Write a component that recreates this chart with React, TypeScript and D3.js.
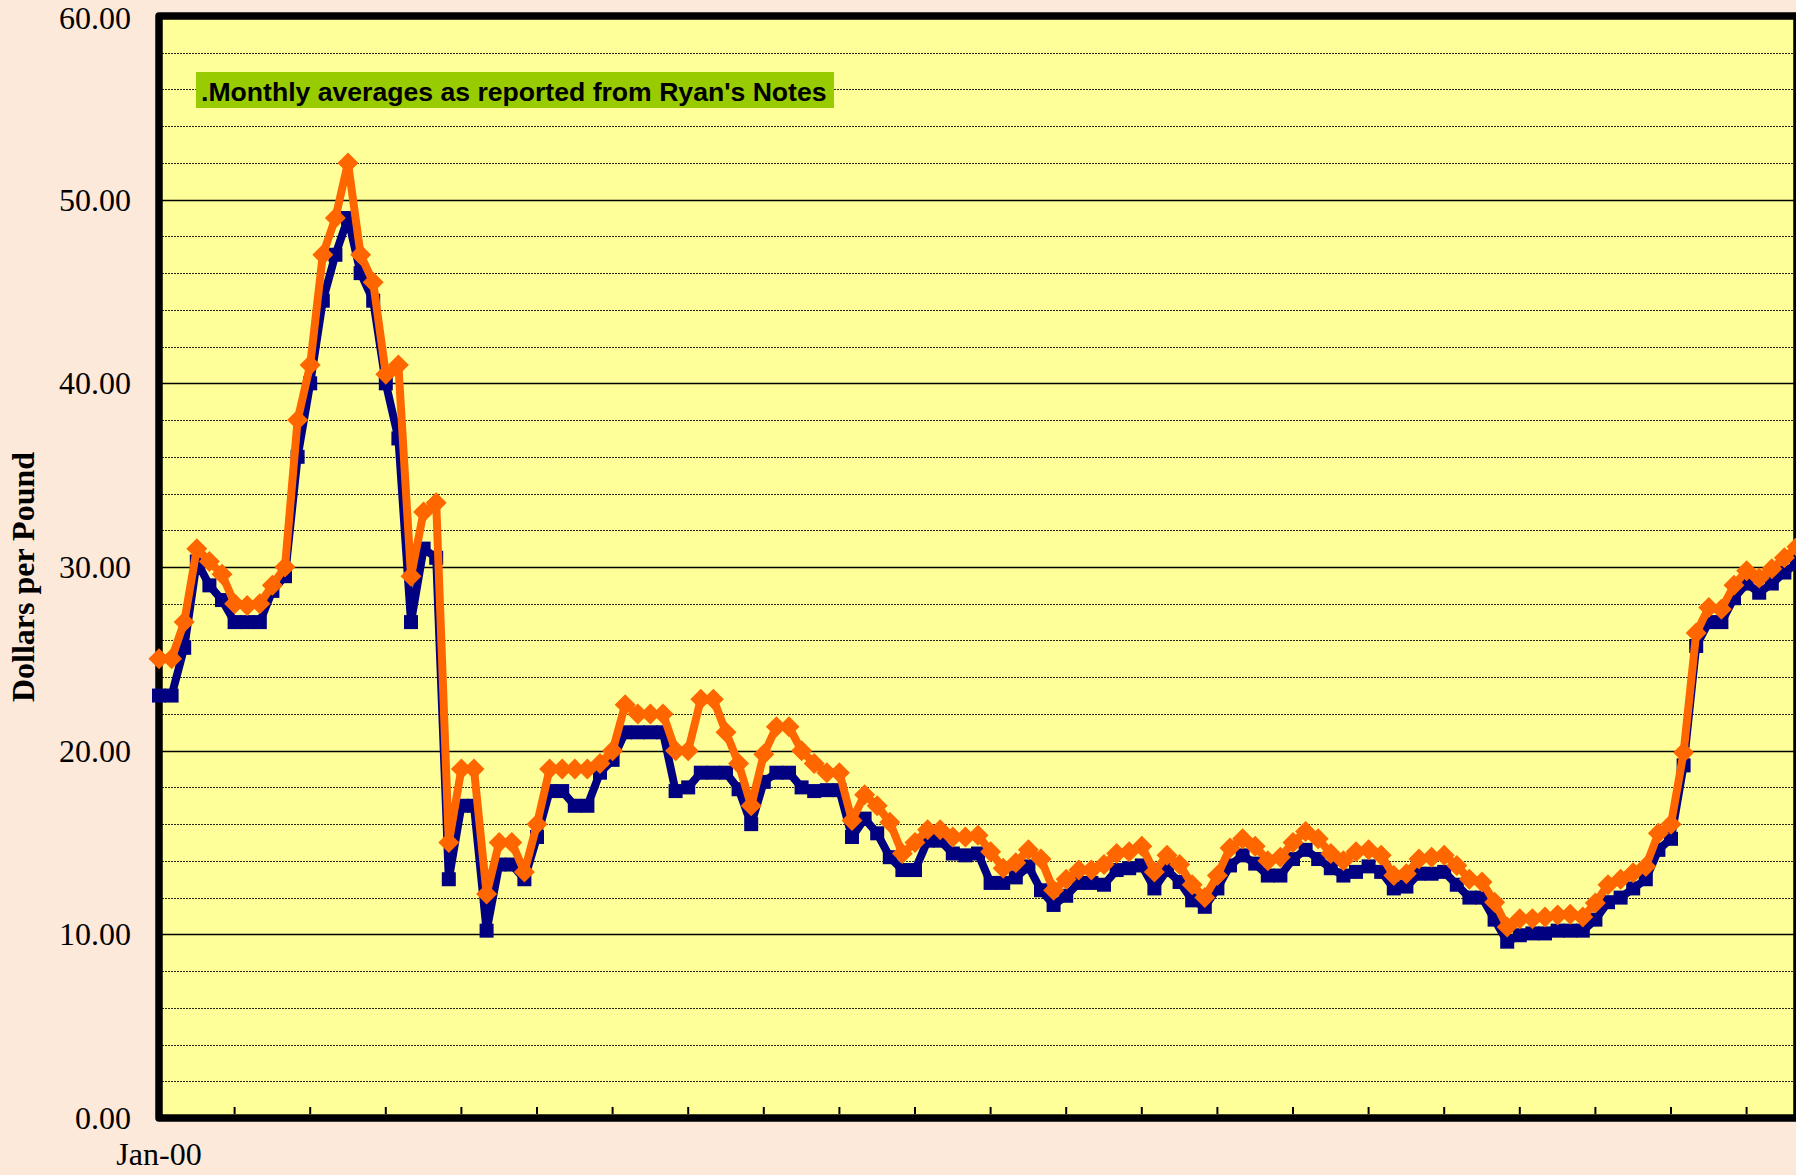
import React from "react";
import * as d3 from "d3";

// Monthly series, Jan-00 onward (index = months since Jan-00)
const monthDates: Date[] = d3.timeMonth.range(new Date(2000, 0, 1), new Date(2010, 11, 1));

const seriesBlue: number[] = [
  23.0, 23.0, 25.6, 30.3, 29.0, 28.2, 27.0, 27.0, 27.0, 28.7,
  29.5, 36.0, 40.0, 44.5, 47.0, 49.0, 46.0, 44.5, 40.0, 37.0,
  27.0, 31.0, 30.5, 13.0, 17.0, 17.0, 10.2, 13.8, 13.8, 13.0,
  15.3, 17.8, 17.8, 17.0, 17.0, 18.8, 19.5, 21.0, 21.0, 21.0,
  21.0, 17.8, 18.0, 18.8, 18.8, 18.8, 17.9, 16.0, 18.3, 18.8,
  18.8, 18.0, 17.8, 17.85, 17.85, 15.3, 16.3, 15.5, 14.2, 13.5,
  13.5, 15.1, 15.1, 14.4, 14.3, 14.4, 12.8, 12.8, 13.1, 13.7,
  12.4, 11.6, 12.1, 12.8, 12.8, 12.7, 13.5, 13.6, 13.75, 12.5,
  13.5, 12.85, 11.85, 11.5, 12.5, 13.75, 14.3, 13.85, 13.2, 13.2,
  14.1, 14.6, 14.1, 13.6, 13.2, 13.4, 13.7, 13.4, 12.5, 12.6,
  13.3, 13.3, 13.4, 12.7, 12.0, 12.0, 10.8, 9.6, 9.95, 10.05,
  10.05, 10.2, 10.2, 10.2, 10.8, 11.75, 12.0, 12.5, 13.0, 14.6,
  15.2, 19.2, 25.7, 27.0, 27.0, 28.3, 29.1, 28.6, 29.1, 29.7,
  30.2,
];

const seriesOrange: number[] = [
  25.0, 25.0, 27.0, 31.0, 30.3, 29.6, 28.0, 27.9, 28.0, 29.0,
  30.0, 38.0, 41.0, 47.0, 49.0, 52.0, 47.0, 45.5, 40.5, 41.0,
  29.5, 33.0, 33.5, 15.0, 19.0, 19.0, 12.2, 15.0, 15.0, 13.4,
  16.0, 19.0, 19.0, 19.0, 19.0, 19.3, 20.0, 22.5, 22.0, 22.0,
  22.0, 20.0, 20.0, 22.8, 22.8, 21.0, 19.3, 17.0, 19.8, 21.3,
  21.3, 20.0, 19.3, 18.8, 18.8, 16.2, 17.6, 17.0, 16.1, 14.4,
  15.0, 15.7, 15.7, 15.3, 15.3, 15.4, 14.5, 13.6, 13.9, 14.6,
  14.1, 12.4, 13.0, 13.5, 13.5, 13.8, 14.4, 14.5, 14.8, 13.4,
  14.3, 13.8, 12.7, 12.0, 13.2, 14.7, 15.2, 14.8, 14.0, 14.2,
  15.0, 15.6, 15.2, 14.4, 14.0, 14.5, 14.6, 14.3, 13.2, 13.3,
  14.1, 14.2, 14.3, 13.75, 13.0, 12.85, 11.75, 10.4, 10.85, 10.85,
  10.95, 11.05, 11.1, 10.95, 11.7, 12.7, 13.0, 13.35, 13.7, 15.5,
  16.0, 19.9, 26.4, 27.8, 27.7, 29.0, 29.8, 29.4, 29.9, 30.5,
  31.1,
];

const yMajorTicks: number[] = [0, 10, 20, 30, 40, 50, 60];
const yMinorTicks: number[] = d3.range(2, 60, 2).filter((v) => v % 10 !== 0);
const xTickStepMonths = 6;
const xTickLabels: string[] = ["Jan-00"];
const yAxisTitle = "Dollars per Pound";
const annotation = ".Monthly averages as reported from Ryan's Notes";

export default function App() {
  const W = 1796;
  const H = 1175;
  const left = 159, right = 1797, top = 16, bottom = 1118;

  const x = d3.scaleLinear().domain([0, monthDates.length - 1]).range([left, right]);
  const y = d3.scaleLinear().domain([0, 60]).range([bottom, top]);

  const line = d3
    .line<number>()
    .x((_, i) => x(i))
    .y((d) => y(d));

  const xTicks = d3.range(xTickStepMonths, monthDates.length - 1, xTickStepMonths);
  const fmt = d3.format(".2f");
  const serif = "'Liberation Serif', 'Times New Roman', Times, serif";
  const sans = "'Liberation Sans', Arial, Helvetica, sans-serif";

  return (
    <svg
      width={W}
      height={H}
      style={{ position: "absolute", left: 0, top: 0, display: "block" }}
      xmlns="http://www.w3.org/2000/svg"
    >
      <rect x={0} y={0} width={W} height={H} fill="#FDE9D9" />
      <rect x={left} y={top} width={right - left} height={bottom - top} fill="#FFFF99" />

      {/* minor gridlines */}
      {yMinorTicks.map((v) => (
        <line
          key={"mn" + v}
          x1={left}
          x2={right}
          y1={Math.round(y(v)) + 0.5}
          y2={Math.round(y(v)) + 0.5}
          stroke="#000"
          strokeWidth={1}
          strokeDasharray="2,1"
          opacity={0.85}
        />
      ))}
      {/* major gridlines */}
      {yMajorTicks.map((v) => (
        <line
          key={"mj" + v}
          x1={left}
          x2={right}
          y1={Math.round(y(v)) + 0.5}
          y2={Math.round(y(v)) + 0.5}
          stroke="#000"
          strokeWidth={1.5}
        />
      ))}

      {/* x tick marks */}
      {xTicks.map((i) => (
        <line key={"xt" + i} x1={x(i)} x2={x(i)} y1={bottom - 4} y2={bottom - 11} stroke="#000" strokeWidth={2} />
      ))}

      {/* plot border */}
      <rect
        x={left}
        y={top}
        width={right - left}
        height={bottom - top}
        fill="none"
        stroke="#000"
        strokeWidth={7.5}
        strokeLinejoin="round"
      />

      {/* annotation */}
      <rect x={196} y={72} width={638} height={36} fill="#99CC00" />
      <text x={201} y={101} fontFamily={sans} fontWeight="bold" fontSize={26.6} fill="#000">
        {annotation}
      </text>

      {/* blue series */}
      <path d={line(seriesBlue) || ""} fill="none" stroke="#000080" strokeWidth={8} strokeLinejoin="round" />
      {seriesBlue.map((v, i) => (
        <rect key={"b" + i} x={x(i) - 7} y={y(v) - 7} width={14} height={14} fill="#000080" />
      ))}

      {/* orange series */}
      <path d={line(seriesOrange) || ""} fill="none" stroke="#FF6600" strokeWidth={8} strokeLinejoin="round" />
      {seriesOrange.map((v, i) => {
        const cx = x(i), cy = y(v), r = 10.5;
        return (
          <path
            key={"o" + i}
            d={`M${cx},${cy - r}L${cx + r},${cy}L${cx},${cy + r}L${cx - r},${cy}Z`}
            fill="#FF6600"
          />
        );
      })}

      {/* y tick labels */}
      {yMajorTicks.map((v) => (
        <text
          key={"yl" + v}
          x={131}
          y={Math.max(y(v) + 11, 29)}
          textAnchor="end"
          fontFamily={serif}
          fontSize={32}
          fill="#000"
        >
          {fmt(v)}
        </text>
      ))}

      {/* x tick label */}
      <text x={x(0)} y={1165} textAnchor="middle" fontFamily={serif} fontSize={32} fill="#000">
        {xTickLabels[0]}
      </text>

      {/* y axis title */}
      <text
        transform={`translate(34, ${(top + bottom) / 2 + 10}) rotate(-90)`}
        textAnchor="middle"
        fontFamily={serif}
        fontWeight="bold"
        fontSize={32}
        fill="#000"
      >
        {yAxisTitle}
      </text>
    </svg>
  );
}
